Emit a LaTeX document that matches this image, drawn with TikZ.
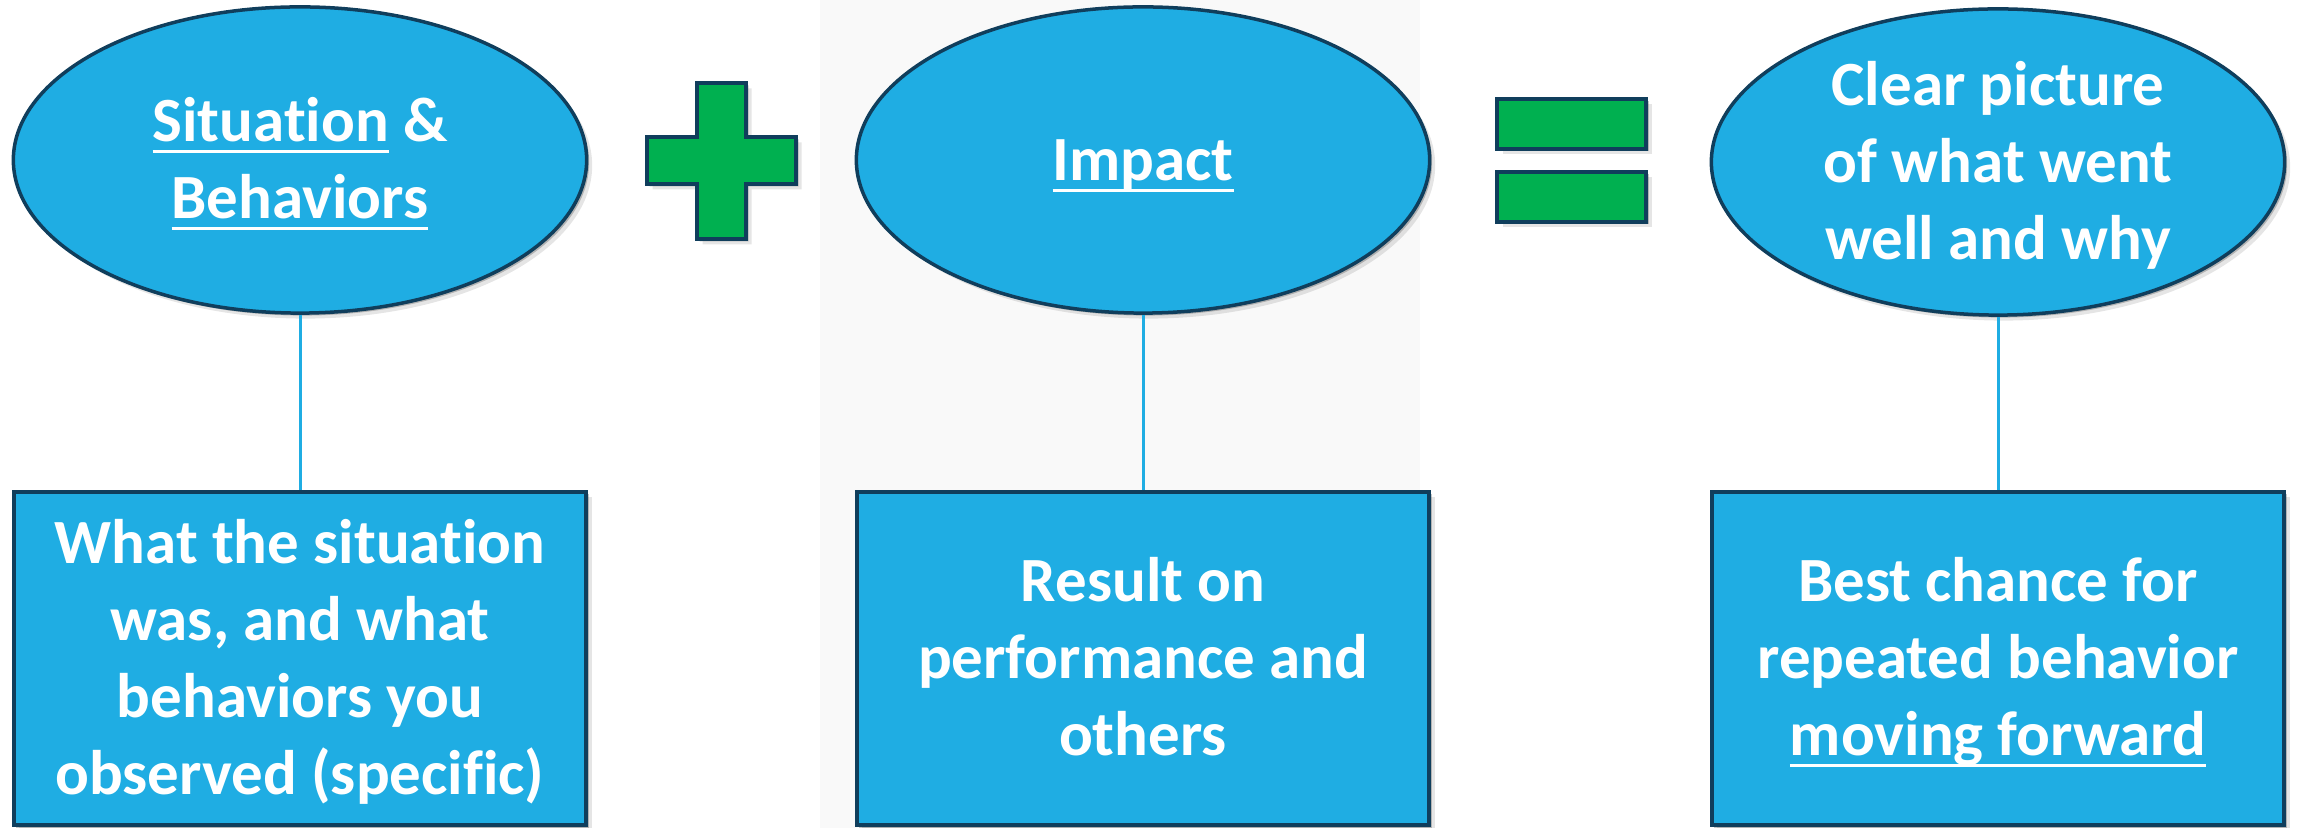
\documentclass[tikz,border=0pt]{standalone}
\usepackage{fontspec}
\setmainfont{Carlito}[RawFeature={-liga;-clig}]
\usetikzlibrary{shadows,shapes.geometric}
\definecolor{fillblue}{RGB}{31,173,227}
\definecolor{edgeblue}{RGB}{16,62,92}
\definecolor{plusgreen}{RGB}{0,176,80}
\definecolor{panelgray}{RGB}{249,249,249}
\newcommand\ulx[1]{\setbox0=\hbox{#1}\rlap{\rule[-0.185em]{\wd0}{0.05em}}\box0\relax}
\newcommand\firstl[1]{\raisebox{0pt}[0.644em][\depth]{#1}}
\newcommand\lastl[1]{\raisebox{0pt}[\height][0pt]{#1}}
\newcommand\onel[1]{\raisebox{0pt}[0.644em][0pt]{#1}}
\tikzset{
  softshadow/.style={
    drop shadow={shadow xshift=0.025cm, shadow yshift=-0.025cm, fill=black, opacity=0.22},
    drop shadow={shadow xshift=0.055cm, shadow yshift=-0.055cm, fill=black, opacity=0.10}},
  bubble/.style={ellipse, draw=edgeblue, line width=0.035cm, fill=fillblue, softshadow,
    minimum width=5.73cm, minimum height=3.06cm, inner sep=0pt, text=white, align=center,
    font=\fontsize{17.9}{21.9}\selectfont\bfseries},
  infobox/.style={rectangle, draw=edgeblue, line width=0.035cm, fill=fillblue, softshadow,
    minimum width=5.72cm, minimum height=3.33cm, inner sep=0pt, text=white, align=center,
    font=\fontsize{17.9}{21.9}\selectfont\bfseries},
  link/.style={draw=fillblue, line width=0.03cm},
  signshape/.style={draw=edgeblue, line width=0.035cm, fill=plusgreen, softshadow}
}
\begin{document}
\begin{tikzpicture}[x=0.01cm,y=-0.01cm]
\useasboundingbox (0,0) rectangle (2298,828);
\fill[panelgray] (820,0) rectangle (1420,828);

% plus sign
\path[signshape] (697,83) -- (746,83) -- (746,137) -- (796,137) -- (796,184) -- (746,184)
  -- (746,239) -- (697,239) -- (697,184) -- (647,184) -- (647,137) -- (697,137) -- cycle;
% equals sign
\path[signshape] (1497,99) rectangle (1646,149);
\path[signshape] (1497,172) rectangle (1646,222);

% top ellipses
\node[bubble] (e1) at (300,160) {\firstl{\ulx{Situation} \&}\\\lastl{\ulx{Behaviors}}};
\node[bubble] (e2) at (1143,160) {\onel{\ulx{Impact}}};
\node[bubble] (e3) at (1998,162) {\firstl{Clear picture}\\of what went\\\lastl{well and why}};

% bottom boxes
\node[infobox] (b1) at (300,658.5) {\firstl{What the situation}\\was, and what\\behaviors you\\\lastl{observed (specific)}};
\node[infobox] (b2) at (1143,658.5) {\firstl{Result on}\\performance and\\\lastl{others}};
\node[infobox] (b3) at (1998,658.5) {\firstl{Best chance for}\\repeated behavior\\\lastl{\ulx{moving forward}}};

% connectors
\draw[link] (e1.south) -- (b1.north);
\draw[link] (e2.south) -- (b2.north);
\draw[link] (e3.south) -- (b3.north);
\end{tikzpicture}
\end{document}
